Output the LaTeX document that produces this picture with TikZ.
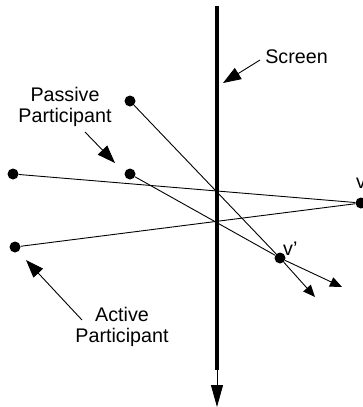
\documentclass[tikz,border=0pt]{standalone}
\usepackage{fontspec}
\setmainfont{Liberation Sans}
\usetikzlibrary{arrows.meta}
\tikzset{
  pdot/.style={circle, fill=black, inner sep=0pt, minimum size=11pt},
  ray/.style={black, line width=0.9pt},
  bigarrow/.style={ray, -{Triangle[length=18pt,width=13pt]}},
  smallarrow/.style={ray, -{Triangle[length=12pt,width=10pt]}},
  lbl/.style={font=\fontsize{19.7}{21}\selectfont, align=center, inner sep=0pt}
}
\begin{document}
\begin{tikzpicture}[x=1pt, y=-1pt]
        \useasboundingbox (0,0) rectangle (362,407);

        % screen
        \coordinate (scrtop) at (217,6);
        \coordinate (scrbot) at (217,370);
        \coordinate (scrend) at (217,407);
        \draw [black, line width=4pt] (scrtop) -- (scrbot);
        \draw [ray, -{Triangle[length=22pt,width=12pt]}] (scrbot) -- (scrend);

        % participants
        \node [pdot] (ptop) at (130,101) {};
        \node [pdot] (pmid) at (130,174) {};
        \node [pdot] (aone) at (13,174) {};
        \node [pdot] (atwo) at (15,247) {};
        \node [pdot] (v) at (361,203) {};
        \node [pdot] (vp) at (280,258) {};

        \coordinate (tipa) at (315,297);
        \coordinate (tipb) at (342,287);

        \draw [ray] (aone) -- (v);
        \draw [ray] (atwo) -- (v);
        \draw [ray] (ptop) -- (vp);
        \draw [ray] (pmid) -- (vp);
        \draw [smallarrow] (vp) -- (tipa);
        \draw [smallarrow] (vp) -- (tipb);

        \node [lbl, anchor=base west] (vlbl) at (356,188) {v};
        \node [lbl, anchor=base west] (vplbl) at (283,255) {v'};

        % labels
        \node [lbl, anchor=base] (scrlbl) at (296.5,63) {Screen};
        \node [lbl] (passlbl) at (65,107) {Passive\\Participant};
        \node [lbl] (actlbl) at (122,327) {Active\\Participant};

        \coordinate (scrtail) at (260,60);
        \coordinate (scrtip) at (223,83);
        \coordinate (passtail) at (85,132);
        \coordinate (passtip) at (115,163);
        \coordinate (acttail) at (82,320);
        \coordinate (acttip) at (26,260);

        \draw [bigarrow] (scrtail) -- (scrtip);
        \draw [bigarrow] (passtail) -- (passtip);
        \draw [bigarrow] (acttail) -- (acttip);
    \end{tikzpicture}
\end{document}
